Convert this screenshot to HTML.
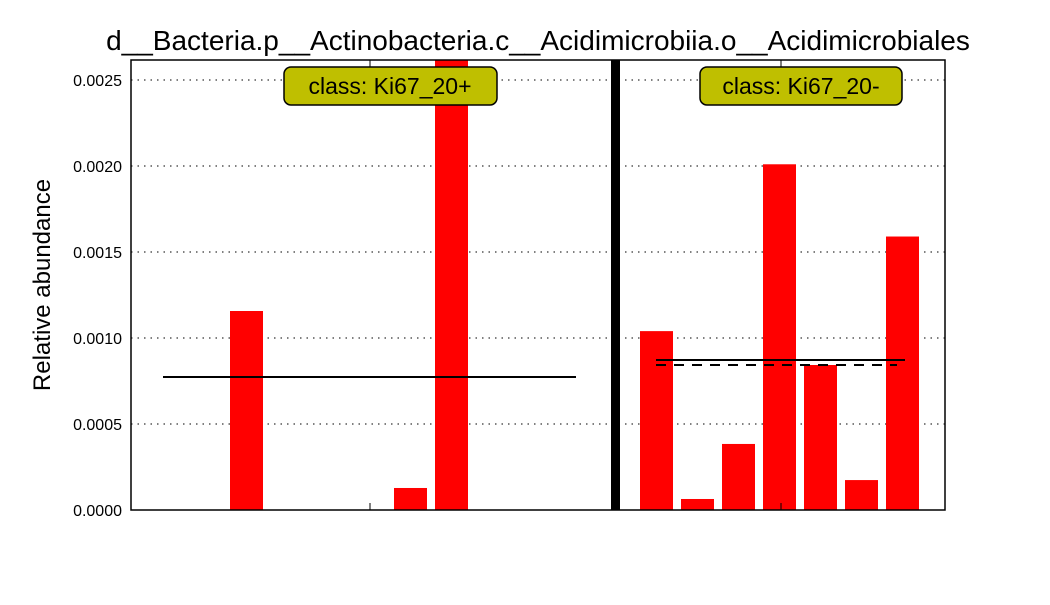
<!DOCTYPE html>
<html><head><meta charset="utf-8"><style>
body{margin:0;background:#fff;font-family:"Liberation Sans",sans-serif;}
svg text{font-family:"Liberation Sans",sans-serif;}
</style></head><body>
<svg id="chart" width="1050" height="600" viewBox="0 0 1050 600">
<rect x="0" y="0" width="1050" height="600" fill="#fff"/>
<text x="538" y="50" font-size="28" text-anchor="middle">d__Bacteria.p__Actinobacteria.c__Acidimicrobiia.o__Acidimicrobiales</text>
<text transform="translate(50,285) rotate(-90)" font-size="24" text-anchor="middle">Relative abundance</text>
<g id="grid"></g><g id="bars"></g><g id="lines"></g><g id="yticks"></g>
<rect x="131" y="60" width="814" height="450" fill="none" stroke="#000" stroke-width="1.5"/>
<g>
<rect x="284" y="67" width="213" height="38" rx="7" fill="#bfbf00" stroke="#000" stroke-width="1.5"/>
<text x="390" y="94" font-size="23" text-anchor="middle">class: Ki67_20+</text></g>
<g>
<rect x="700" y="67" width="202" height="38" rx="7" fill="#bfbf00" stroke="#000" stroke-width="1.5"/>
<text x="801" y="94" font-size="23" text-anchor="middle">class: Ki67_20-</text></g>
</svg>
<script>
const ticks=[0,0.0005,0.001,0.0015,0.002,0.0025];
const tickLabels=["0.0000","0.0005","0.0010","0.0015","0.0020","0.0025"];
const leftValues=[0,0,0.001157,0,0,0,0.000128,0.0027,0,0,0];
const rightValues=[0.00104,0.000064,0.000384,0.00201,0.000843,0.000174,0.00159];
const leftMean=[0.000773];
const rightMean=[0.000872];
const rightMedian=[0.000843];
const NS="http://www.w3.org/2000/svg";
const y0=510,yTop=60,yMax=0.0026163;
function Y(v){return y0-(v/yMax)*(y0-yTop);}
function X(i){return 148+41*i;}
function mk(t,a,p){const e=document.createElementNS(NS,t);for(const k in a)e.setAttribute(k,a[k]);p.appendChild(e);return e;}
const g=document.getElementById('grid'),b=document.getElementById('bars'),l=document.getElementById('lines'),yt=document.getElementById('yticks');
ticks.forEach((t,i)=>{
 const ln=mk('line',{x1:131,x2:945,y1:Y(t),y2:Y(t),stroke:'#000','stroke-dasharray':'1.5,5','stroke-width':1},g);
 
 
 const tx=mk('text',{x:122,y:Y(t)+6,'font-size':16,'text-anchor':'end'},yt);
 tx.textContent=tickLabels[i];
 
 
});
function bar(i,v){
 const top=Math.max(Y(v),yTop);
 const r=mk('rect',{x:X(i),y:top,width:33,height:Math.max(y0-top,0),fill:'#f00'},b);
 
 
}
leftValues.forEach((v,i)=>bar(i,v));
rightValues.forEach((v,i)=>bar(12+i,v));
const sep=mk('rect',{x:X(11)+12,y:yTop,width:9,height:y0-yTop,fill:'#000'},l);


const m1=mk('line',{x1:163,x2:576,y1:Y(leftMean[0]),y2:Y(leftMean[0]),stroke:'#000','stroke-width':2},l);


const m2=mk('line',{x1:656,x2:905,y1:Y(rightMean[0]),y2:Y(rightMean[0]),stroke:'#000','stroke-width':2},l);


const m3=mk('line',{x1:656,x2:897,y1:Y(rightMedian[0]),y2:Y(rightMedian[0]),stroke:'#000','stroke-width':2,'stroke-dasharray':'10,8'},l);


[370,781].forEach(x=>{
 const a=mk('line',{x1:x,x2:x,y1:y0,y2:y0-7,stroke:'#000'},l);
 
 
 const c=mk('line',{x1:x,x2:x,y1:yTop,y2:yTop+7,stroke:'#000'},l);
 
 
});
</script>
</body></html>
